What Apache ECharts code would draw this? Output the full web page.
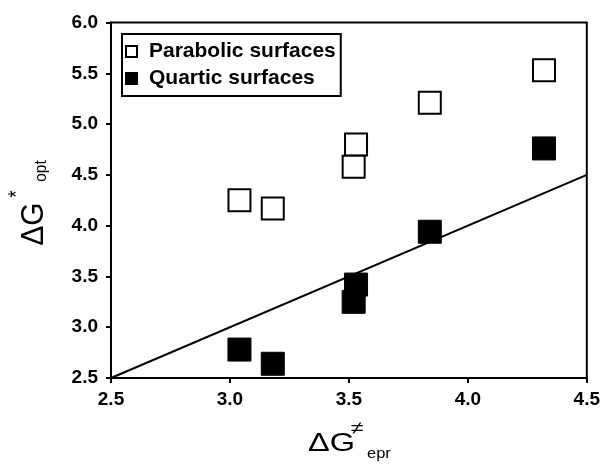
<!DOCTYPE html>
<html>
<head>
<meta charset="utf-8">
<script src="https://cdn.jsdelivr.net/npm/echarts@6/dist/echarts.min.js"></script>
<style>
html,body{margin:0;padding:0;background:#fff;}
#main{width:603px;height:465px;}
</style>
</head>
<body>
<div id="main"></div>
<script>
// Data
var seriesNames = ['Parabolic surfaces', 'Quartic surfaces'];
var parabolicX = [3.04, 3.18, 3.53, 3.52, 3.84, 4.32];
var parabolicY = [4.25, 4.17, 4.80, 4.58, 5.21, 5.53];
var quarticX = [3.04, 3.18, 3.53, 3.52, 3.84, 4.32];
var quarticY = [2.78, 2.64, 3.42, 3.25, 3.94, 4.76];
var lineX = [2.5, 4.5];
var lineY = [2.5, 4.5];
var xTicks = ['2.5', '3.0', '3.5', '4.0', '4.5'];
var yTicks = ['2.5', '3.0', '3.5', '4.0', '4.5', '5.0', '5.5', '6.0'];

function pairs(xs, ys) { return xs.map(function (x, i) { return [x, ys[i]]; }); }

var FONT = "'Liberation Sans', Arial, Helvetica, sans-serif";
var chart = echarts.init(document.getElementById('main'), null, {renderer: 'canvas'});

var option = {
  backgroundColor: '#fff',
  animation: false,
  grid: {left: 111, right: 16, top: 22.5, bottom: 87, show: true, borderColor: '#000', borderWidth: 2, backgroundColor: 'transparent'},
  xAxis: {
    type: 'value', min: 2.5, max: 4.5, interval: 0.5,
    axisLine: {show: true, lineStyle: {color: '#000', width: 2}},
    axisTick: {show: true, inside: false, length: 5, lineStyle: {color: '#000', width: 2}},
    splitLine: {show: false},
    axisLabel: {color: '#000', fontFamily: FONT, fontWeight: 'bold', fontSize: 19, margin: 12,
      formatter: function (v) { var s = v.toFixed(1); return xTicks.indexOf(s) >= 0 ? s : ''; }}
  },
  yAxis: {
    type: 'value', min: 2.5, max: 6, interval: 0.5,
    axisLine: {show: true, lineStyle: {color: '#000', width: 2}},
    axisTick: {show: true, inside: false, length: 5, lineStyle: {color: '#000', width: 2}},
    splitLine: {show: false},
    axisLabel: {color: '#000', fontFamily: FONT, fontWeight: 'bold', fontSize: 19, margin: 13,
      formatter: function (v) { var s = v.toFixed(1); return yTicks.indexOf(s) >= 0 ? s : ''; }}
  },
  legend: {
    orient: 'vertical', left: 122, top: 34,
    data: seriesNames,
    backgroundColor: '#fff', borderColor: '#000', borderWidth: 2,
    padding: [7, 5, 7, 3],
    itemWidth: 11, itemHeight: 11, itemGap: 6,
    icon: 'rect',
    textStyle: {color: '#000', fontFamily: FONT, fontWeight: 'bold', fontSize: 21, padding: [0, 0, 0, 7]}
  },
  series: [
    {
      name: 'fit', type: 'line', data: pairs(lineX, lineY), showSymbol: false, symbol: 'none',
      lineStyle: {color: '#000', width: 2}, z: 1, silent: true
    },
    {
      name: seriesNames[0], type: 'scatter', symbol: 'rect', symbolSize: 22,
      data: pairs(parabolicX, parabolicY),
      itemStyle: {color: '#fff', borderColor: '#000', borderWidth: 2, opacity: 1}, z: 3
    },
    {
      name: seriesNames[1], type: 'scatter', symbol: 'rect', symbolSize: 23,
      data: pairs(quarticX, quarticY),
      itemStyle: {color: '#000', borderColor: '#000', borderWidth: 1, opacity: 1}, z: 3
    }
  ],
  graphic: [
    {type: 'text', x: 308, y: 444, scaleX: 1.3, scaleY: 1,
      style: {text: 'ΔG', font: 'normal 25px ' + FONT, fill: '#000', align: 'left', verticalAlign: 'middle'}},
    {type: 'text', x: 351, y: 429, scaleX: 1.3, scaleY: 1,
      style: {text: '≠', font: 'normal 18px ' + FONT, fill: '#000', align: 'left', verticalAlign: 'middle'}},
    {type: 'text', x: 367, y: 454, scaleX: 1.1, scaleY: 1,
      style: {text: 'epr', font: 'normal 15px ' + FONT, fill: '#000', align: 'left', verticalAlign: 'middle'}},
    {type: 'text', x: 34, y: 224, rotation: Math.PI / 2, scaleX: 1.2, scaleY: 1.25,
      style: {text: 'ΔG', font: 'normal 25px ' + FONT, fill: '#000', align: 'center', verticalAlign: 'middle'}},
    {type: 'text', x: 17, y: 194, rotation: Math.PI / 2, scaleX: 1, scaleY: 1.2,
      style: {text: '*', font: 'normal 18px ' + FONT, fill: '#000', align: 'center', verticalAlign: 'middle'}},
    {type: 'text', x: 41, y: 171, rotation: Math.PI / 2, scaleX: 1.1, scaleY: 1.2,
      style: {text: 'opt', font: 'normal 14px ' + FONT, fill: '#000', align: 'center', verticalAlign: 'middle'}}
  ]
};
chart.setOption(option);
</script>
</body>
</html>
